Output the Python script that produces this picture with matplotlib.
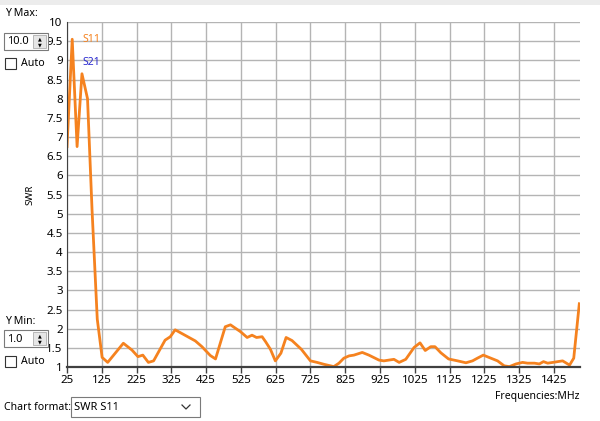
import matplotlib
matplotlib.use("Agg")
import matplotlib.pyplot as plt
from matplotlib.patches import Rectangle
from matplotlib.lines import Line2D

# SWR S11 sweep
freq_mhz = [25, 40, 54, 68, 84, 97, 112, 126, 142, 187, 212, 229, 243, 259, 274,
            307, 322, 336, 394, 413, 437, 452, 480, 495, 524, 543, 557, 570, 586,
            596, 610, 624, 640, 655, 672, 699, 725, 744, 764, 783, 792, 807, 821,
            836, 850, 874, 893, 922, 936, 965, 980, 999, 1023, 1040, 1055, 1071,
            1083, 1100, 1122, 1148, 1172, 1191, 1205, 1222, 1241, 1263, 1282, 1297,
            1316, 1335, 1349, 1369, 1383, 1395, 1407, 1422, 1450, 1470, 1482, 1498]
swr_s11 = [6.75, 9.55, 6.75, 8.65, 8.0, 5.1, 2.25, 1.25, 1.12, 1.62, 1.44, 1.27, 1.31,
           1.12, 1.16, 1.70, 1.79, 1.97, 1.68, 1.53, 1.30, 1.21, 2.05, 2.10, 1.92,
           1.77, 1.83, 1.77, 1.79, 1.66, 1.46, 1.16, 1.36, 1.77, 1.69, 1.46, 1.16,
           1.12, 1.07, 1.03, 1.01, 1.10, 1.23, 1.29, 1.31, 1.38, 1.31, 1.18, 1.16,
           1.20, 1.12, 1.20, 1.51, 1.63, 1.43, 1.53, 1.53, 1.37, 1.21, 1.16, 1.11,
           1.16, 1.23, 1.31, 1.24, 1.16, 1.03, 1.01, 1.08, 1.12, 1.10, 1.10, 1.08,
           1.14, 1.10, 1.12, 1.16, 1.05, 1.23, 2.65]

x_ticks = list(range(25, 1426, 100))
y_ticks = [1, 1.5, 2, 2.5, 3, 3.5, 4, 4.5, 5, 5.5, 6, 6.5, 7, 7.5, 8, 8.5, 9, 9.5, 10]

W, H = 600, 421
ORANGE = "#f5821f"
UI = 7.6
plt.rcParams["font.family"] = ["Noto Sans", "DejaVu Sans"]

fig = plt.figure(figsize=(W / 100, H / 100), dpi=100)
fig.patch.set_facecolor("white")


def fx(x):
    return x / W


def fy(y):
    return 1 - y / H


ax = fig.add_axes([fx(67), fy(367), fx(580) - fx(67), fy(22) - fy(367)])
ax.plot(freq_mhz, swr_s11, color=ORANGE, lw=2.0, solid_joinstyle="round")
ax.set_xlim(25, 1500)
ax.set_ylim(1, 10)
ax.set_xticks(x_ticks)
ax.set_yticks(y_ticks)
ax.set_yticklabels(["%g" % v for v in y_ticks])
ax.grid(True, color="#b4b4b4", lw=1.0)
ax.set_axisbelow(True)
for s in ("top", "right"):
    ax.spines[s].set_visible(False)
ax.spines["left"].set_color("#404040")
ax.spines["bottom"].set_color("#404040")
ax.spines["bottom"].set_linewidth(1.6)
ax.tick_params(axis="x", length=4, width=1, color="#404040", labelsize=8.3, pad=2)
ax.tick_params(axis="y", length=0, labelsize=8.3, pad=3)

ax.text(0.031, 0.948, "S11", transform=ax.transAxes, color=ORANGE, fontsize=7.5, va="center")
ax.text(0.031, 0.884, "S21", transform=ax.transAxes, color="#2a2ad0", fontsize=7.5, va="center")

fig.text(fx(30), fy(195), "SWR", rotation=90, ha="center", va="center", fontsize=7)
fig.text(fx(580), fy(396), "Frequencies:MHz", ha="right", va="center", fontsize=7.5)

# window chrome
fig.patches.append(Rectangle((0, fy(5)), 1, 1 - fy(5), transform=fig.transFigure,
                             facecolor="#ececec", edgecolor="none"))


def spin_box(top, text):
    fig.patches.append(Rectangle((fx(4), fy(top + 17)), fx(44), fy(top) - fy(top + 17),
                                 transform=fig.transFigure, facecolor="white",
                                 edgecolor="#7a7a7a", lw=0.8))
    fig.patches.append(Rectangle((fx(33), fy(top + 15)), fx(13), fy(top + 2) - fy(top + 15),
                                 transform=fig.transFigure, facecolor="#e6e6e6",
                                 edgecolor="#adadad", lw=0.6))
    fig.text(fx(7), fy(top + 9), text, va="center", fontsize=UI + 0.4)
    fig.text(fx(39.5), fy(top + 5.5), "▲", ha="center", va="center", fontsize=3.5)
    fig.text(fx(39.5), fy(top + 11.5), "▼", ha="center", va="center", fontsize=3.5)


def check_box(top, text):
    fig.patches.append(Rectangle((fx(5), fy(top + 11)), fx(11), fy(top) - fy(top + 11),
                                 transform=fig.transFigure, facecolor="white",
                                 edgecolor="#333333", lw=0.8))
    fig.text(fx(21), fy(top + 5.5), text, va="center", fontsize=UI)


fig.text(fx(5), fy(13), "Y Max:", va="center", fontsize=UI)
spin_box(33, "10.0")
check_box(58, "Auto")

fig.text(fx(5), fy(322), "Y Min:", va="center", fontsize=UI)
spin_box(330, "1.0")
check_box(356, "Auto")

fig.text(fx(4), fy(407), "Chart format:", va="center", fontsize=UI)
fig.patches.append(Rectangle((fx(71), fy(417)), fx(129), fy(397) - fy(417),
                             transform=fig.transFigure, facecolor="white",
                             edgecolor="#7a7a7a", lw=0.8))
fig.text(fx(74), fy(407), "SWR S11", va="center", fontsize=UI + 0.4)
fig.lines.append(Line2D([fx(182), fx(186), fx(190)], [fy(405), fy(409), fy(405)],
                        transform=fig.transFigure, color="#333333", lw=0.9))

fig.savefig("out.png", dpi=100)
